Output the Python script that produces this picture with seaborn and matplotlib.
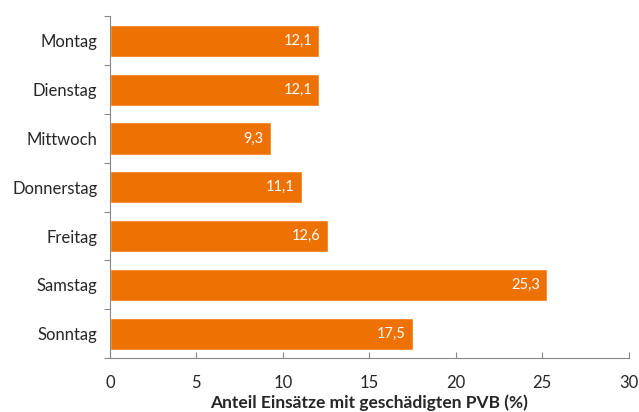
import matplotlib
matplotlib.use("Agg")
import matplotlib.pyplot as plt
import seaborn as sns
import pandas as pd
import numpy as np

days = ["Montag", "Dienstag", "Mittwoch", "Donnerstag", "Freitag", "Samstag", "Sonntag"]
values = [12.1, 12.1, 9.3, 11.1, 12.6, 25.3, 17.5]
value_labels = ["12,1", "12,1", "9,3", "11,1", "12,6", "25,3", "17,5"]
x_ticks = [0, 5, 10, 15, 20, 25, 30]

sns.set_style("white")
plt.rcParams["font.family"] = ["Lato", "DejaVu Sans"]

df = pd.DataFrame({"Tag": days, "Wert": values})

fig = plt.figure(figsize=(6.39, 4.12), dpi=100)
ax = fig.add_axes([0.172, 0.131, 0.812, 0.829])
color = "#EE7203"
sns.barplot(data=df, x="Wert", y="Tag", orient="h", color=color, saturation=1,
            width=0.66, ax=ax)

for i, (v, lab) in enumerate(zip(values, value_labels)):
    ax.text(v - 0.4, i, lab, color="white", ha="right", va="center", fontsize=10.5)

ax.set_xlim(0, 30)
ax.set_ylim(6.5, -0.5)
ax.set_xticks(x_ticks)
ax.set_xticklabels([str(t) for t in x_ticks], fontsize=12)
ax.set_yticks(range(len(days)))
ax.set_yticklabels(days, fontsize=12)
ax.set_yticks(np.arange(-0.5, 7.0, 1.0), minor=True)
ax.tick_params(axis="y", which="major", length=0, pad=9)
ax.tick_params(axis="y", which="minor", length=4, direction="out", color="#888888", width=0.8, left=True)
ax.tick_params(axis="x", which="major", length=4, direction="in", color="#888888", width=0.8, bottom=True, pad=12)
ax.set_ylabel("")
ax.set_xlabel("Anteil Einsätze mit geschädigten PVB (%)", fontsize=12.5, fontweight="bold", labelpad=3)

for s in ["top", "right"]:
    ax.spines[s].set_visible(False)
for s in ["left", "bottom"]:
    ax.spines[s].set_color("#888888")
    ax.spines[s].set_linewidth(0.8)

fig.savefig("out.png", dpi=100)
